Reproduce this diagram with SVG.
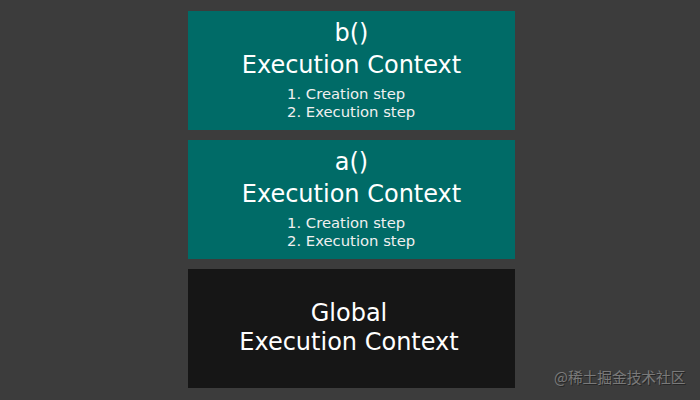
<svg xmlns="http://www.w3.org/2000/svg" width="700" height="400" viewBox="0 0 700 400">
<style>
.t{font-family:"DejaVu Sans",sans-serif;fill:#ffffff;text-anchor:middle}
.h{font-size:24px}
.s{font-size:14.8px;fill:#f0f0f0;text-anchor:start}
.teal{fill:#006b67}
.wm{font-family:"Noto Sans CJK SC",sans-serif;font-size:14.7px}
</style>
<rect width="700" height="400" fill="#3c3c3c"/>
<g id="b-context">
<rect class="teal" x="188" y="11" width="327" height="119"/>
<text class="t h" x="351.5" y="41">b()</text>
<text class="t h" x="351.5" y="73">Execution Context</text>
<text class="t s" x="287" y="99">1. Creation step</text>
<text class="t s" x="287" y="117">2. Execution step</text>
</g>
<g id="a-context">
<rect class="teal" x="188" y="140" width="327" height="119"/>
<text class="t h" x="351.5" y="170">a()</text>
<text class="t h" x="351.5" y="202">Execution Context</text>
<text class="t s" x="287" y="228">1. Creation step</text>
<text class="t s" x="287" y="246">2. Execution step</text>
</g>
<g id="global-context">
<rect fill="#161616" x="188" y="269" width="327" height="119"/>
<text class="t h" x="349" y="321">Global</text>
<text class="t h" x="349" y="350">Execution Context</text>
</g>
<g id="connectors"></g>
<text class="wm" x="555" y="384" fill="#262626">@稀土掘金技术社区</text>
<text class="wm" x="554" y="383" fill="#7a7a7a">@稀土掘金技术社区</text>
</svg>
